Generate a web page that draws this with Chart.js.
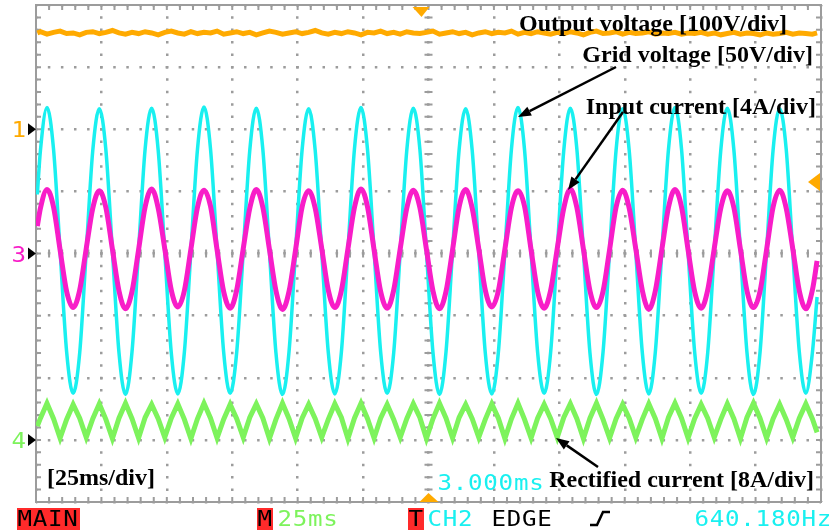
<!DOCTYPE html>
<html>
<head>
<meta charset="utf-8">
<script src="https://cdn.jsdelivr.net/npm/chart.js@4.4.1/dist/chart.umd.min.js"></script>
<style>
  html, body { margin: 0; padding: 0; background: #fff; }
  canvas { display: block; }
</style>
</head>
<body>
<canvas id="scope" width="836" height="530"></canvas>
<script>
// sample times in ms (25 ms/div, 12 div)
const sampleTimes = [
  0.5, 1.7, 4.2, 6.7, 9.2, 11.7, 14.2, 16.7, 19.2, 21.7,
  24.2, 26.7, 29.2, 31.7, 34.2, 36.7, 39.2, 41.7, 44.2, 46.7,
  49.2, 51.7, 54.2, 56.7, 59.2, 61.7, 64.2, 66.7, 69.2, 71.7,
  74.2, 76.7, 79.2, 81.7, 84.2, 86.7, 89.2, 91.7, 94.2, 96.7,
  99.2, 101.7, 104.2, 106.7, 109.2, 111.7, 114.2, 116.7, 119.2, 121.7,
  124.2, 126.7, 129.2, 131.7, 134.2, 136.7, 139.2, 141.7, 144.2, 146.7,
  149.2, 151.7, 154.2, 156.7, 159.2, 161.7, 164.2, 166.7, 169.2, 171.7,
  174.2, 176.7, 179.2, 181.7, 184.2, 186.7, 189.2, 191.7, 194.2, 196.7,
  199.2, 201.7, 204.2, 206.7, 209.2, 211.7, 214.2, 216.7, 219.2, 221.7,
  224.2, 226.7, 229.2, 231.7, 234.2, 236.7, 239.2, 241.7, 244.2, 246.7,
  249.2, 251.7, 254.2, 256.7, 259.2, 261.7, 264.2, 266.7, 269.2, 271.7,
  274.2, 276.7, 279.2, 281.7, 284.2, 286.7, 289.2, 291.7, 294.2, 296.7,
  298.5
]

// trace values in screen divisions (0 = centre line)
const outputVoltage = [
  3.55, 3.57, 3.53, 3.56, 3.58, 3.54, 3.55, 3.52, 3.56, 3.57,
  3.54, 3.56, 3.59, 3.55, 3.53, 3.56, 3.54, 3.57, 3.55, 3.52,
  3.56, 3.58, 3.55, 3.53, 3.57, 3.54, 3.56, 3.55, 3.58, 3.53,
  3.55, 3.57, 3.54, 3.56, 3.52, 3.55, 3.58, 3.56, 3.53, 3.55,
  3.57, 3.54, 3.56, 3.59, 3.55, 3.53, 3.56, 3.54, 3.57, 3.55,
  3.52, 3.56, 3.55, 3.58, 3.54, 3.56, 3.53, 3.57, 3.55, 3.54,
  3.56, 3.58, 3.53, 3.55, 3.57, 3.54, 3.56, 3.52, 3.55, 3.57,
  3.54, 3.56, 3.55, 3.58, 3.53, 3.56, 3.54, 3.57, 3.55, 3.53,
  3.56, 3.54, 3.57, 3.55, 3.52, 3.56, 3.58, 3.54, 3.55, 3.57,
  3.53, 3.56, 3.54, 3.55, 3.57, 3.53, 3.55, 3.54, 3.56, 3.53,
  3.55, 3.54, 3.56, 3.53, 3.55, 3.52, 3.54, 3.56, 3.53, 3.55,
  3.54, 3.52, 3.55, 3.53, 3.54, 3.56, 3.53, 3.55, 3.54, 3.53,
  3.55
]

const gridVoltage = [
  0.95, 1.66, 2.35, 1.68, 0.05, -1.58, -2.25, -1.60, 0.03, 1.66,
  2.33, 1.67, 0.04, -1.59, -2.27, -1.58, 0.05, 1.68, 2.34, 1.66,
  0.03, -1.60, -2.26, -1.59, 0.04, 1.67, 2.36, 1.68, 0.05, -1.58,
  -2.25, -1.59, 0.03, 1.66, 2.34, 1.67, 0.04, -1.60, -2.27, -1.58,
  0.05, 1.67, 2.33, 1.66, 0.03, -1.59, -2.26, -1.59, 0.04, 1.68,
  2.35, 1.67, 0.05, -1.58, -2.25, -1.60, 0.03, 1.66, 2.34, 1.68,
  0.04, -1.59, -2.27, -1.58, 0.05, 1.67, 2.33, 1.66, 0.04, -1.60,
  -2.26, -1.59, 0.04, 1.68, 2.35, 1.67, 0.03, -1.59, -2.25, -1.58,
  0.05, 1.66, 2.34, 1.68, 0.04, -1.60, -2.27, -1.59, 0.03, 1.67,
  2.33, 1.66, 0.04, -1.59, -2.26, -1.58, 0.05, 1.67, 2.35, 1.68,
  0.03, -1.58, -2.25, -1.60, 0.04, 1.66, 2.34, 1.67, 0.05, -1.59,
  -2.27, -1.59, 0.04, 1.67, 2.33, 1.68, 0.03, -1.58, -2.25, -1.60,
  -0.70
]

const inputCurrent = [
  0.44, 0.73, 1.03, 0.75, 0.06, -0.61, -0.87, -0.59, 0.08, 0.73,
  1.01, 0.74, 0.07, -0.60, -0.89, -0.61, 0.06, 0.75, 1.04, 0.73,
  0.08, -0.59, -0.86, -0.60, 0.07, 0.74, 1.02, 0.76, 0.06, -0.61,
  -0.88, -0.59, 0.08, 0.73, 1.03, 0.74, 0.07, -0.60, -0.90, -0.61,
  0.06, 0.75, 1.01, 0.73, 0.08, -0.59, -0.87, -0.60, 0.07, 0.74,
  1.04, 0.75, 0.06, -0.61, -0.88, -0.59, 0.08, 0.73, 1.02, 0.74,
  0.07, -0.60, -0.89, -0.61, 0.06, 0.75, 1.03, 0.73, 0.08, -0.59,
  -0.86, -0.60, 0.07, 0.74, 1.01, 0.76, 0.06, -0.61, -0.88, -0.59,
  0.08, 0.73, 1.04, 0.74, 0.07, -0.60, -0.87, -0.61, 0.06, 0.75,
  1.02, 0.73, 0.08, -0.59, -0.90, -0.60, 0.07, 0.74, 1.03, 0.75,
  0.06, -0.61, -0.88, -0.59, 0.08, 0.73, 1.01, 0.74, 0.07, -0.60,
  -0.87, -0.61, 0.06, 0.75, 1.02, 0.73, 0.08, -0.60, -0.89, -0.59,
  -0.12
]

const rectifiedCurrent = [
  -2.78, -2.65, -2.41, -2.66, -2.97, -2.67, -2.43, -2.65, -2.96, -2.66,
  -2.42, -2.67, -2.98, -2.65, -2.41, -2.66, -2.97, -2.64, -2.43, -2.66,
  -2.96, -2.65, -2.42, -2.67, -2.98, -2.66, -2.41, -2.65, -2.97, -2.67,
  -2.43, -2.66, -2.96, -2.64, -2.42, -2.65, -2.98, -2.67, -2.41, -2.66,
  -2.97, -2.65, -2.43, -2.66, -2.96, -2.67, -2.42, -2.64, -2.98, -2.65,
  -2.41, -2.66, -2.97, -2.65, -2.43, -2.67, -2.96, -2.66, -2.42, -2.64,
  -2.98, -2.66, -2.41, -2.65, -2.97, -2.64, -2.43, -2.66, -2.96, -2.67,
  -2.42, -2.65, -2.98, -2.66, -2.41, -2.67, -2.97, -2.65, -2.43, -2.66,
  -2.96, -2.64, -2.42, -2.66, -2.98, -2.65, -2.41, -2.67, -2.97, -2.66,
  -2.43, -2.65, -2.96, -2.67, -2.42, -2.66, -2.98, -2.64, -2.41, -2.65,
  -2.97, -2.66, -2.43, -2.65, -2.96, -2.67, -2.42, -2.66, -2.98, -2.64,
  -2.41, -2.65, -2.97, -2.66, -2.43, -2.67, -2.96, -2.65, -2.42, -2.66,
  -2.88
]

const ORANGE = '#ffaa00'
const CYAN = '#19f0f0'
const MAGENTA = '#f81dc8'
const GREEN = '#7df35c'
const GRID = '#9c9c9c'

const pts = vals => sampleTimes.map((t, i) => ({ x: t, y: vals[i] }))

// scope style lettering: fixed cell width, slightly stretched glyphs
function scopeText (ctx, str, x, base, color) {
  const adv = 15.3
  ctx.save()
  ctx.font = '21px "DejaVu Sans Mono"'
  ctx.fillStyle = color
  ctx.textAlign = 'center'
  ctx.textBaseline = 'alphabetic'
  for (let i = 0; i < str.length; i++) {
    ctx.save()
    ctx.translate(x + adv * i + adv / 2, base)
    ctx.scale(1.15, 1)
    ctx.fillText(str[i], 0, 0)
    ctx.restore()
  }
  ctx.restore()
}

function tri (ctx, p, color) {
  ctx.fillStyle = color
  ctx.beginPath()
  ctx.moveTo(p[0], p[1])
  ctx.lineTo(p[2], p[3])
  ctx.lineTo(p[4], p[5])
  ctx.closePath()
  ctx.fill()
}

function arrow (ctx, x1, y1, x2, y2) {
  const ang = Math.atan2(y2 - y1, x2 - x1)
  const len = 13
  const half = 5
  const bx = x2 - len * Math.cos(ang)
  const by = y2 - len * Math.sin(ang)
  ctx.strokeStyle = '#000'
  ctx.lineWidth = 2.5
  ctx.beginPath()
  ctx.moveTo(x1, y1)
  ctx.lineTo(bx, by)
  ctx.stroke()
  tri(ctx, [x2, y2,
    bx + half * Math.sin(ang), by - half * Math.cos(ang),
    bx - half * Math.sin(ang), by + half * Math.cos(ang)], '#000')
}

const scopeDecor = {
  id: 'scopeDecor',
  beforeDatasetsDraw (chart) {
    const { ctx, chartArea: a, scales: { x, y } } = chart
    ctx.save()
    ctx.strokeStyle = GRID
    ctx.lineWidth = 2
    ctx.beginPath()
    const cx = x.getPixelForValue(150)
    const cy = y.getPixelForValue(0)
    for (let t = 0; t <= 300.01; t += 5) {
      const px = x.getPixelForValue(t)
      ctx.moveTo(px, a.top); ctx.lineTo(px, a.top + 5)
      ctx.moveTo(px, a.bottom); ctx.lineTo(px, a.bottom - 5)
      ctx.moveTo(px, cy - 4); ctx.lineTo(px, cy + 4)
    }
    for (let v = -4; v <= 4.01; v += 0.2) {
      const py = y.getPixelForValue(v)
      ctx.moveTo(a.left, py); ctx.lineTo(a.left + 5, py)
      ctx.moveTo(a.right, py); ctx.lineTo(a.right - 5, py)
      ctx.moveTo(cx - 4, py); ctx.lineTo(cx + 4, py)
    }
    ctx.stroke()
    ctx.strokeRect(a.left, a.top, a.right - a.left, a.bottom - a.top)
    ctx.restore()
  },
  afterDraw (chart) {
    const { ctx, chartArea: a, scales: { x, y } } = chart
    ctx.save()

    // markers
    const cx = x.getPixelForValue(150)
    tri(ctx, [cx - 16, a.top + 2, cx + 1, a.top + 2, cx - 7, a.top + 12], ORANGE)
    tri(ctx, [cx - 9, a.bottom, cx + 10, a.bottom, cx, a.bottom - 9], ORANGE)
    const ry = y.getPixelForValue(1.15)
    tri(ctx, [a.right - 1, ry - 9, a.right - 1, ry + 9, a.right - 13, ry], ORANGE)
    ;[[2, '1', ORANGE], [0, '3', MAGENTA], [-3, '4', GREEN]].forEach(([v, s, c]) => {
      const py = y.getPixelForValue(v)
      tri(ctx, [a.left - 8, py - 6, a.left, py, a.left - 8, py + 6], '#000')
      scopeText(ctx, s, 11, py + 8, c)
    })

    // annotations
    ctx.font = 'bold 24px "Liberation Serif", "Times New Roman", serif'
    ctx.fillStyle = '#000'
    ctx.textBaseline = 'alphabetic'
    ctx.textAlign = 'right'
    ctx.fillText('Output voltage [100V/div]', 787, 31)
    ctx.fillText('Grid voltage [50V/div]', 813, 62)
    ctx.fillText('Input current [4A/div]', 816, 114)
    ctx.fillText('Rectified current [8A/div]', 814, 487)
    ctx.textAlign = 'left'
    ctx.fillText('[25ms/div]', 47, 485)

    arrow(ctx, 616, 67, 518, 117)
    arrow(ctx, 623, 112, 568, 190)
    arrow(ctx, 598, 467, 556, 438)

    scopeText(ctx, '3.000ms', 437, 490, CYAN)

    // status bar
    ctx.fillStyle = '#ff2a2a'
    ctx.fillRect(17, 508, 63, 22)
    ctx.fillRect(257, 508, 16, 22)
    ctx.fillRect(408, 508, 16, 22)
    scopeText(ctx, 'MAIN', 17, 526, '#000')
    scopeText(ctx, 'M', 257, 526, '#000')
    scopeText(ctx, '25ms', 277, 526, GREEN)
    scopeText(ctx, 'T', 408, 526, '#000')
    scopeText(ctx, 'CH2', 427, 526, CYAN)
    scopeText(ctx, 'EDGE', 491, 526, '#000')
    scopeText(ctx, '640.180Hz', 694, 526, CYAN)
    ctx.strokeStyle = '#000'
    ctx.lineWidth = 2.5
    ctx.beginPath()
    ctx.moveTo(590, 525); ctx.lineTo(597, 525)
    ctx.lineTo(603, 512); ctx.lineTo(610, 512)
    ctx.stroke()
    ctx.restore()
  }
}

new Chart(document.getElementById('scope').getContext('2d'), {
  type: 'line',
  data: {
    datasets: [
      { label: 'Input current', data: pts(inputCurrent), borderColor: MAGENTA, borderWidth: 5, cubicInterpolationMode: 'monotone', order: 0 },
      { label: 'Grid voltage', data: pts(gridVoltage), borderColor: CYAN, borderWidth: 3.5, cubicInterpolationMode: 'monotone', order: 1 },
      { label: 'Output voltage', data: pts(outputVoltage), borderColor: ORANGE, borderWidth: 5, tension: 0, order: 2 },
      { label: 'Rectified current', data: pts(rectifiedCurrent), borderColor: GREEN, borderWidth: 5, tension: 0, order: 3 }
    ]
  },
  options: {
    responsive: false,
    animation: false,
    devicePixelRatio: 1,
    layout: { padding: { left: 36, top: 5, right: 15, bottom: 28 } },
    plugins: { legend: { display: false }, tooltip: { enabled: false } },
    elements: { point: { radius: 0 } },
    scales: {
      x: {
        type: 'linear',
        min: 0,
        max: 300,
        ticks: { stepSize: 25, display: false },
        grid: { color: GRID, lineWidth: 2.5, drawTicks: false },
        border: { display: false, dash: [2.5, 9.93], dashOffset: 1.25 }
      },
      y: {
        min: -4,
        max: 4,
        ticks: { stepSize: 1, display: false },
        grid: { color: GRID, lineWidth: 2.5, drawTicks: false },
        border: { display: false, dash: [2.5, 10.58], dashOffset: 1.25 }
      }
    }
  },
  plugins: [scopeDecor]
})
</script>
</body>
</html>
